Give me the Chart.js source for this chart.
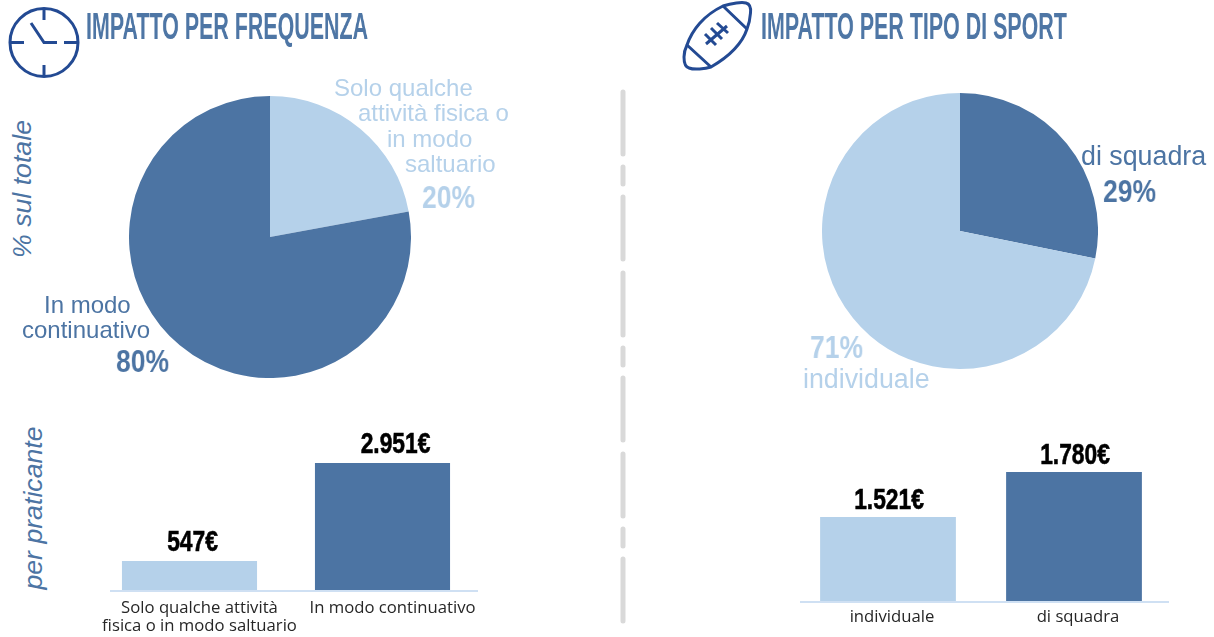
<!DOCTYPE html>
<html lang="it">
<head>
<meta charset="utf-8">
<title>Impatto</title>
<script src="https://cdn.jsdelivr.net/npm/chart.js@4"></script>
<style>
html,body{margin:0;padding:0;background:#fff;width:1214px;height:637px;overflow:hidden}
.box{position:absolute}
.box canvas{display:block}
.t{position:absolute;white-space:nowrap;line-height:1;transform-origin:left center}
.s{will-change:transform}
.title{font:700 36px "Liberation Sans Narrow","Liberation Sans",sans-serif;color:#4E76A5}
.lab{font:24px "Liberation Sans",sans-serif}
.big{font-size:26.8px}
.pct{font:700 32px "Liberation Sans Narrow","Liberation Sans",sans-serif}
.dark{color:#4C74A3}.light{color:#B5D1EA}
.side{font:italic 26.7px "Liberation Sans",sans-serif;color:#4C74A3;transform-origin:center center}
</style>
</head>
<body>
<svg class="box" style="left:0;top:0" width="1214" height="637" fill="none" stroke="#234A93" stroke-width="3">
  <circle cx="44" cy="42.5" r="34"/>
  <path d="M44 8.5V20M44 65V76.5M10 42.5H24M64 42.5H78M57 42.5H44L31 23"/>
  <path d="M723 6C732 3 742 2 746 3C750 4 751 8 750.5 13C750 20 749 24 747 29C742 44 730 56 711 67C705 69 694 70 689 68C685 67 684 63 684 57C684 53 685 49 687 45C692 30 704 15 723 6Z"/>
  <path d="M723 6L747 29M687 45L711 67M706 44L727 26M705 34L716 45M711 28L722 39M717 23L728 33"/>
  <g stroke="#D9D9D9" stroke-width="5" stroke-linecap="round">
    <path d="M623 92V154M623 167V184M623 197V259M623 273V335M623 348V365M623 378V440M623 454V516M623 529V546M623 559V621"/>
  </g>
</svg>

<div class="t title s" style="left:86px;top:6px;transform:scaleX(.595)">IMPATTO PER FREQUENZA</div>
<div class="t title s" style="left:761px;top:6px;transform:scaleX(.595)">IMPATTO PER TIPO DI SPORT</div>

<div class="t side" style="left:22px;top:189px;transform:translate(-50%,-50%) rotate(-90deg)">% sul totale</div>
<div class="t side" style="left:33px;top:508px;transform:translate(-50%,-50%) rotate(-90deg)">per praticante</div>

<div class="box" style="left:129px;top:96px;width:282px;height:282px"><canvas id="pieFreq"></canvas></div>
<div class="box" style="left:822px;top:93px;width:276px;height:276px"><canvas id="pieSport"></canvas></div>
<div class="box" style="left:53px;top:420px;width:466px;height:217px"><canvas id="barFreq"></canvas></div>
<div class="box" style="left:755px;top:420px;width:452px;height:217px"><canvas id="barSport"></canvas></div>

<div class="t lab light" style="left:334px;top:74px">Solo qualche</div>
<div class="t lab light" style="left:358px;top:99px">attività fisica o</div>
<div class="t lab light" style="left:387px;top:125px">in modo</div>
<div class="t lab light" style="left:405px;top:150px">saltuario</div>
<div class="t pct light s" style="left:422px;top:179px;transform:scaleX(.83)">20%</div>
<div class="t lab dark" style="left:44px;top:291px">In modo</div>
<div class="t lab dark" style="left:22px;top:316px">continuativo</div>
<div class="t pct dark s" style="left:116px;top:343px;transform:scaleX(.83)">80%</div>
<div class="t lab big dark" style="left:1081px;top:141px">di squadra</div>
<div class="t pct dark s" style="left:1103px;top:173px;transform:scaleX(.83)">29%</div>
<div class="t pct light s" style="left:810px;top:329px;transform:scaleX(.83)">71%</div>
<div class="t lab big light" style="left:803px;top:364px">individuale</div>

<script>
// Slice shares as drawn in the picture (the printed labels are rounded differently)
const freqShares = [22.1, 77.9];
const sportShares = [28.2, 71.8];
const freqCategories = [['Solo qualche attività', 'fisica o in modo saltuario'], 'In modo continuativo'];
const freqValues = [547, 2951];
const freqLabels = ['547€', '2.951€'];
const sportCategories = ['individuale', 'di squadra'];
const sportValues = [1521, 1780];
const sportLabels = ['1.521€', '1.780€'];
// Both bar axes are truncated in the picture
const freqAxis = [-164, 4006];
const sportAxis = [1037, 2079];

const DARK = '#4C74A3', LIGHT = '#B5D1EA';
Chart.defaults.animation = false;
Chart.defaults.responsive = true;
Chart.defaults.maintainAspectRatio = false;
Chart.defaults.plugins.legend.display = false;
Chart.defaults.plugins.tooltip.enabled = false;
Chart.defaults.events = [];

function pie(id, data, colors) {
  new Chart(document.getElementById(id), {
    type: 'pie',
    data: {datasets: [{data, backgroundColor: colors, borderWidth: 0}]},
    options: {layout: {padding: 0}}
  });
}
pie('pieFreq', freqShares, [LIGHT, DARK]);
pie('pieSport', sportShares, [DARK, LIGHT]);

const barExtras = {
  id: 'barExtras',
  afterDatasetsDraw(chart, args, o) {
    const {ctx, chartArea: a} = chart;
    ctx.save();
    ctx.strokeStyle = '#CFE0F3';
    ctx.lineWidth = 2;
    ctx.beginPath();
    ctx.moveTo(a.left + o.lineFrom, a.bottom + 1);
    ctx.lineTo(a.right - o.lineTo, a.bottom + 1);
    ctx.stroke();
    ctx.fillStyle = '#000';
    ctx.strokeStyle = '#000';
    ctx.lineWidth = .6;
    ctx.textAlign = 'center';
    ctx.textBaseline = 'alphabetic';
    ctx.font = '700 30px "Liberation Sans Narrow","Liberation Sans",sans-serif';
    chart.getDatasetMeta(0).data.forEach((bar, i) => {
      ctx.save();
      ctx.translate(bar.x + o.shift[i], bar.y - o.gap);
      ctx.scale(.76, 1);
      ctx.fillText(o.labels[i], 0, 0);
      ctx.strokeText(o.labels[i], 0, 0);
      ctx.restore();
    });
    ctx.restore();
  }
};

function bars(id, categories, values, labels, axis, barPct, labelOffset, lineFrom, lineTo, xHeight, shift, tickPad, gap) {
  new Chart(document.getElementById(id), {
    type: 'bar',
    data: {labels: categories, datasets: [{
      data: values,
      base: axis[0],
      backgroundColor: [LIGHT, DARK],
      borderWidth: 0,
      barPercentage: barPct,
      categoryPercentage: 1
    }]},
    options: {
      layout: {padding: {left: 40, right: 40, top: 0, bottom: 0}},
      plugins: {barExtras: {labels, lineFrom, lineTo, shift, gap}},
      scales: {
        y: {display: false, min: axis[0], max: axis[1]},
        x: {
          border: {display: false},
          grid: {display: false, drawTicks: false},
          afterFit(s) { s.height = xHeight; },
          ticks: {
            padding: tickPad, labelOffset, maxRotation: 0, minRotation: 0, autoSkip: false,
            color: '#262626',
            font: {family: '"Open Sans"', size: 16.7, lineHeight: 1.11}
          }
        }
      }
    },
    plugins: [barExtras]
  });
}
bars('barFreq', freqCategories, freqValues, freqLabels, freqAxis, 0.70, 10, 17, 1, 47, [3, 13], 8.5, 10.5);
bars('barSport', sportCategories, sportValues, sportLabels, sportAxis, 0.73, 4, 5, -2, 36, [1, 1], 6.75, 8);
</script>
</body>
</html>
